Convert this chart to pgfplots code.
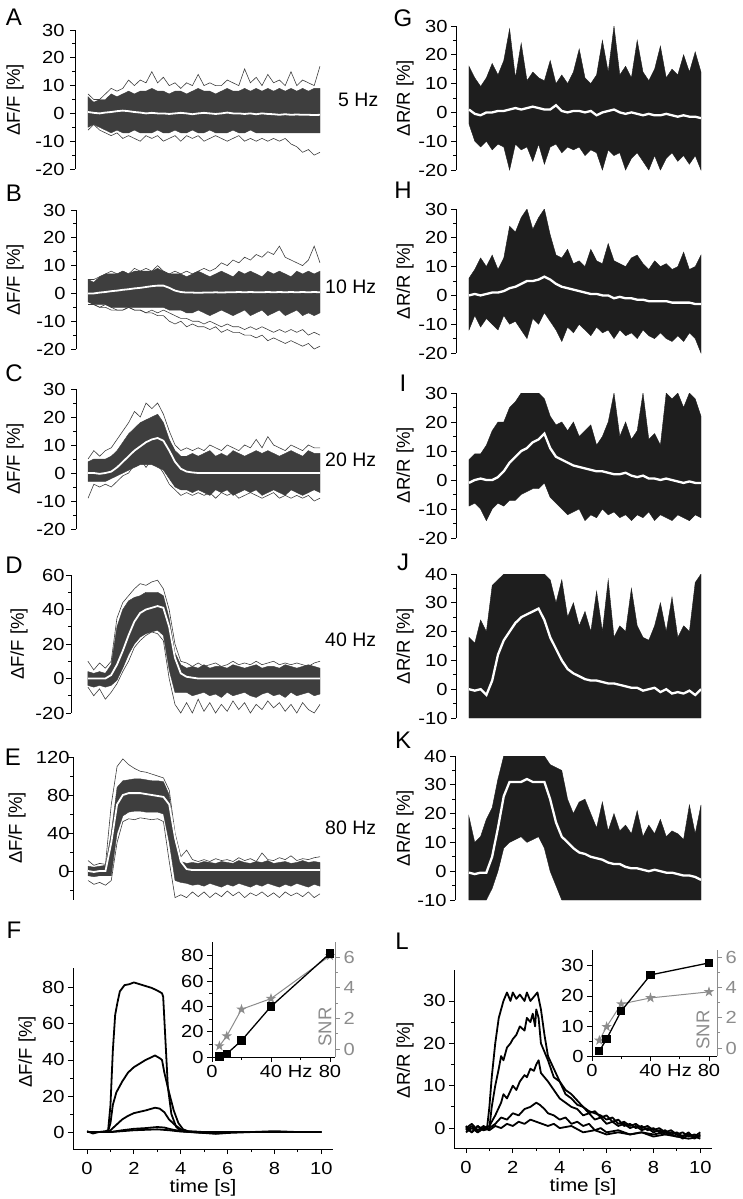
\documentclass[border=0pt]{standalone}
\usepackage{fontspec}
\setmainfont{Liberation Sans}
\newfontfamily\wide{Liberation Sans}[FakeStretch=1.15]
\usepackage{pgfplots}
\usepackage{pgfplotstable}
\pgfplotsset{compat=1.18}
\usepgfplotslibrary{fillbetween}

\definecolor{bandL}{RGB}{62,62,62}
\definecolor{bandR}{RGB}{30,30,30}
\definecolor{snr}{RGB}{140,140,140}

% filled five-point star for the SNR points
\pgfdeclareplotmark{fstar}{%
  \pgfpathmoveto{\pgfpointpolar{90}{1.3\pgfplotmarksize}}%
  \pgfpathlineto{\pgfpointpolar{126}{0.5\pgfplotmarksize}}%
  \pgfpathlineto{\pgfpointpolar{162}{1.3\pgfplotmarksize}}%
  \pgfpathlineto{\pgfpointpolar{198}{0.5\pgfplotmarksize}}%
  \pgfpathlineto{\pgfpointpolar{234}{1.3\pgfplotmarksize}}%
  \pgfpathlineto{\pgfpointpolar{270}{0.5\pgfplotmarksize}}%
  \pgfpathlineto{\pgfpointpolar{306}{1.3\pgfplotmarksize}}%
  \pgfpathlineto{\pgfpointpolar{342}{0.5\pgfplotmarksize}}%
  \pgfpathlineto{\pgfpointpolar{18}{1.3\pgfplotmarksize}}%
  \pgfpathlineto{\pgfpointpolar{54}{0.5\pgfplotmarksize}}%
  \pgfpathclose
  \pgfusepathqfillstroke
}

\pgfplotsset{
  base/.style={scale only axis, anchor=south west, tick align=outside,
    major tick length=5pt, minor tick length=3pt,
    axis line style={line width=0.9pt}, tick style={black, line width=0.9pt},
    /pgf/number format/assume math mode=true,
    tick label style={font=\wide\fontsize{17.5}{19}\selectfont}},
  band/.style={base, axis y line*=left, axis x line=none, xtick=\empty,
    xmax=10, minor y tick num=1},
  timeaxis/.style={base, axis x line*=bottom, axis y line*=left,
    xmin=-0.6, xmax=10.5, xtick={0,2,...,10}, minor x tick num=1, minor y tick num=1,
    xticklabel style={inner sep=1pt, yshift=-7pt},
    xlabel={time [s]},
    xlabel style={font=\wide\fontsize{18}{19}\selectfont,
      at={(axis description cs:0.5,0)}, anchor=north, inner sep=0pt, yshift=-30pt}},
  tr/.style={black, line width=1.8pt, line join=round},
  meanL/.style={white, line width=1.8pt},
  meanR/.style={white, line width=2.3pt},
}

% dense band (hi/lo), outlier traces (o1,o2,o3) and mean (m); t in s, values in %
\pgfplotstableread{
t hi lo m o1 o2
0 6 -5 0.5 7 -6
0.25 4 -4 0.2 5 -4
0.5 5 -5 0 5 -6
0.75 5 -6 0.3 7 -7
1.0 7 -7 0.5 9 -8
1.25 6 -6 0.8 8 -7
1.5 7 -7 1 9 -9
1.75 8 -7 0.8 12 -8
2.0 7 -6 0.5 10 -9
2.25 8 -7 0.3 12 -10
2.5 8 -7 0 11 -8
2.75 9 -7 0.2 15 -9
3.0 8 -6 0 11 -8
3.25 8 -7 0 13 -10
3.5 7 -7 -0.2 10 -9
3.75 8 -6 0 11 -8
4.0 8 -7 0.2 9 -10
4.25 7 -7 0 11 -8
4.5 8 -6 -0.3 10 -9
4.75 9 -7 0 14 -8
5.0 8 -7 0.2 10 -10
5.25 8 -6 0 11 -9
5.5 7 -7 -0.2 10 -8
5.75 8 -7 0 10 -9
6.0 9 -7 0.3 12 -10
6.25 8 -6 0 11 -9
6.5 8 -7 0 10 -8
6.75 9 -7 -0.2 16 -10
7.0 8 -6 0 11 -9
7.25 9 -7 -0.3 13 -10
7.5 8 -7 0 10 -9
7.75 9 -7 -0.2 14 -10
8.0 8 -7 -0.3 11 -9
8.25 9 -7 -0.5 12 -10
8.5 8 -7 -0.3 10 -9
8.75 9 -7 -0.5 15 -11
9.0 8 -7 -0.4 10 -12
9.25 9 -7 -0.5 12 -14
9.5 8 -7 -0.5 11 -13
9.75 9 -7 -0.6 10 -15
10.0 9 -7 -0.5 17 -14
}\tabA

\pgfplotstableread{
t hi lo m o1 o2 o3
0 5 -3 0 5 -4 -3
0.25 4 -4 0 5 -4 -4
0.5 6 -4 0.3 6 -5 -5
0.75 7 -4 0.5 7 -5 -4
1.0 7 -5 0.8 8 -6 -5
1.25 7 -5 1 7 -6 -6
1.5 8 -5 1.3 8 -6 -6
1.75 7 -5 1.5 7 -5 -5
2.0 8 -5 1.8 9 -6 -6
2.25 8 -5 2 8 -6 -6
2.5 8 -5 2.3 9 -7 -7
2.75 8 -5 2.6 8 -7 -6
3.0 9 -5 2.8 10 -8 -7
3.25 8 -5 2.8 8 -8 -6
3.5 7 -6 2 7 -10 -7
3.75 7 -6 1 8 -11 -8
4.0 7 -6 0.5 7 -10 -9
4.25 6 -7 0.3 8 -12 -9
4.5 7 -7 0.3 7 -11 -10
4.75 8 -6 0.2 8 -12 -10
5.0 7 -7 0.3 9 -12 -11
5.25 6 -8 0.3 8 -13 -10
5.5 7 -7 0.4 9 -12 -11
5.75 8 -6 0.3 11 -14 -12
6.0 7 -7 0.4 10 -13 -11
6.25 6 -8 0.4 12 -14 -12
6.5 8 -7 0.5 11 -14 -12
6.75 7 -6 0.4 13 -15 -13
7.0 8 -8 0.5 12 -15 -12
7.25 7 -7 0.4 14 -16 -13
7.5 6 -6 0.4 13 -15 -12
7.75 8 -8 0.5 15 -17 -13
8.0 7 -7 0.4 14 -16 -14
8.25 8 -6 0.5 17 -17 -13
8.5 7 -8 0.4 13 -18 -14
8.75 6 -7 0.5 12 -17 -13
9.0 8 -6 0.4 11 -18 -14
9.25 7 -8 0.5 10 -19 -13
9.5 8 -7 0.4 12 -18 -15
9.75 7 -8 0.5 17 -20 -14
10.0 8 -7 0.4 11 -19 -15
}\tabB

\pgfplotstableread{
t hi lo m o1 o2
0 4 -3 0 5 -9
0.25 5 -3 0 8 -4
0.5 5 -3 -0.3 6 -5
0.75 5 -3 0 8 -4
1.0 6 -2 0.5 9 -5
1.25 8 -1 2 12 -3
1.5 11 0 4 15 -1
1.75 14 1 6 18 0
2.0 16 2 8 22 3
2.25 18 3 9.5 20 5
2.5 19 3 11 25 2
2.75 20 3 12 23 5
3.0 21 2 12.5 25 3
3.25 18 1 11.5 21 0
3.5 12 -2 8 15 -4
3.75 8 -5 4 10 -6
4.0 6 -6 1.5 8 -8
4.25 6 -6 0.5 9 -7
4.5 7 -7 0.2 8 -8
4.75 6 -6 0 9 -7
5.0 7 -7 0 8 -8
5.25 8 -8 0 10 -7
5.5 6 -6 0 9 -9
5.75 7 -7 0 8 -7
6.0 6 -6 0 10 -8
6.25 8 -8 0 9 -7
6.5 7 -7 0 8 -9
6.75 6 -6 0 10 -8
7.0 7 -7 0 9 -7
7.25 8 -6 0 12 -8
7.5 7 -8 0 9 -9
7.75 8 -7 0 13 -8
8.0 7 -6 0 10 -7
8.25 6 -7 0 9 -9
8.5 7 -8 0 8 -8
8.75 8 -6 0 10 -9
9.0 7 -7 0 9 -8
9.25 6 -8 0 8 -9
9.5 8 -7 0 10 -8
9.75 7 -6 0 9 -10
10.0 7 -7 0 9 -9
}\tabC

\pgfplotstableread{
t hi lo m o1 o2
0 4 -4 0 10 -5
0.25 3 -5 0 5 -10
0.5 4 -4 0 9 -6
0.75 3 -5 0 6 -12
1.0 8 -4 2 10 -8
1.25 30 -1 8 35 -3
1.5 40 6 16 44 4
1.75 45 14 25 48 10
2.0 47 20 33 52 18
2.25 48 24 38 55 22
2.5 50 26 40 54 25
2.75 50 27 41 56 27
3.0 50 28 42 57 26
3.25 48 25 41 52 22
3.5 35 5 30 40 0
3.75 15 -8 12 20 -15
4.0 8 -8 3 10 -20
4.25 6 -8 1 9 -14
4.5 7 -10 0.5 7 -20
4.75 6 -9 0 9 -12
5.0 8 -8 0 7 -19
5.25 6 -10 0 8 -14
5.5 7 -9 0 9 -20
5.75 7 -11 0 7 -15
6.0 6 -8 0 8 -19
6.25 8 -10 0 10 -13
6.5 7 -9 0 8 -18
6.75 6 -8 0 9 -14
7.0 7 -10 0 8 -20
7.25 8 -11 0 10 -15
7.5 6 -9 0 8 -18
7.75 7 -8 0 9 -13
8.0 7 -10 0 10 -17
8.25 6 -9 0 8 -14
8.5 8 -11 0 9 -19
8.75 7 -8 0 8 -15
9.0 6 -10 0 9 -20
9.25 7 -9 0 8 -14
9.5 8 -8 0 7 -18
9.75 7 -10 0 9 -20
10.0 6 -9 0 10 -15
}\tabD

\pgfplotstableread{
t hi lo m o1 o2
0 5 -5 0 11 -10
0.25 4 -6 -1 6 -14
0.5 5 -5 0 8 -12
0.75 6 -5 0 7 -15
1.0 40 -5 30 70 -10
1.25 88 40 70 110 30
1.5 95 58 80 118 52
1.75 96 62 82 112 55
2.0 97 63 82 108 54
2.25 97 63 82 105 56
2.5 96 62 81 104 55
2.75 95 62 80 102 54
3.0 95 62 79 100 55
3.25 94 60 78 98 52
3.5 80 30 70 85 10
3.75 30 -10 35 40 -28
4.0 10 -12 10 15 -25
4.25 8 -13 2 22 -28
4.5 9 -15 1 12 -22
4.75 8 -14 1 10 -27
5.0 10 -16 1 12 -22
5.25 9 -13 1 10 -28
5.5 8 -15 1 13 -23
5.75 10 -17 1 11 -27
6.0 9 -14 1 12 -21
6.25 8 -16 1 10 -26
6.5 11 -13 1 14 -22
6.75 9 -15 1 11 -28
7.0 8 -17 1 13 -23
7.25 10 -14 1 10 -26
7.5 9 -16 1 19 -22
7.75 11 -13 1 12 -27
8.0 8 -15 1 11 -23
8.25 9 -17 1 14 -28
8.5 10 -14 1 12 -22
8.75 8 -16 1 16 -26
9.0 9 -13 1 11 -23
9.25 11 -15 1 13 -27
9.5 9 -17 1 12 -22
9.75 10 -14 1 14 -28
10.0 9 -16 1 15 -24
}\tabE

\pgfplotstableread{
t hi lo m
0 16 -4 1
0.25 12 -10 -0.5
0.5 9 -12 -1
0.75 12 -10 0
1.0 17 -13 0
1.25 13 -11 0.5
1.5 18 -12 0.5
1.75 29 -20 1
2.0 12 -11 1.5
2.25 24 -13 1
2.5 11 -12 1.5
2.75 14 -17 2
3.0 12 -11 1.5
3.25 11 -18 1
3.5 18 -12 1
3.75 10 -11 2.5
4.0 13 -14 0.5
4.25 10 -12 0
4.5 14 -13 0.5
4.75 22 -12 0.5
5.0 12 -15 0
5.25 10 -13 0.5
5.5 13 -14 -1
5.75 25 -20 0
6.0 14 -13 0.5
6.25 30 -15 1
6.5 13 -14 0
6.75 16 -20 -0.5
7.0 12 -16 0
7.25 25 -14 -0.5
7.5 14 -17 -1
7.75 11 -20 -0.5
8.0 15 -15 -1
8.25 23 -20 -1
8.5 12 -16 -0.5
8.75 15 -14 -1
9.0 13 -17 -1.5
9.25 20 -15 -1
9.5 14 -18 -1.5
9.75 21 -15 -1.5
10.0 14 -20 -2
}\tabG

\pgfplotstableread{
t hi lo m
0 6 -12 0
0.25 9 -7 0.5
0.5 13 -11 0
0.75 10 -8 0.5
1.0 14 -10 1
1.25 9 -12 1
1.5 13 -7 1.5
1.75 24 -10 2.5
2.0 22 -9 3
2.25 27 -12 4
2.5 30 -15 5
2.75 23 -8 5
3.0 27 -10 5.5
3.25 30 -6 6.5
3.5 21 -9 5.5
3.75 14 -12 4
4.0 13 -16 3
4.25 16 -11 2.5
4.5 11 -13 2
4.75 12 -10 1.5
5.0 10 -12 1
5.25 16 -14 0.5
5.5 12 -11 0.5
5.75 11 -13 0
6.0 18 -12 0
6.25 12 -15 -1
6.5 11 -12 -0.5
6.75 10 -14 -1
7.0 13 -13 -1
7.25 14 -15 -1.5
7.5 11 -12 -1.5
7.75 9 -14 -2
8.0 12 -15 -2
8.25 10 -13 -2
8.5 11 -15 -2
8.75 9 -16 -2.5
9.0 10 -14 -2.5
9.25 15 -16 -2.5
9.5 9 -13 -2.5
9.75 10 -15 -3
10.0 14 -20 -3
}\tabH

\pgfplotstableread{
t hi lo m
0 7 -9 -1
0.25 9 -8 0
0.5 9 -10 0.5
0.75 12 -14 0
1.0 17 -10 0
1.25 20 -8 1
1.5 20 -9 3
1.75 25 -7 6
2.0 27 -7 8
2.25 30 -5 10
2.5 30 -4 11
2.75 30 -3 13
3.0 30 -3 14
3.25 28 -1 16
3.5 22 -6 11
3.75 19 -8 8
4.0 20 -10 7
4.25 17 -12 6
4.5 20 -11 5
4.75 15 -10 4.5
5.0 17 -14 4
5.25 19 -12 3.5
5.5 12 -13 3
5.75 15 -10 3
6.0 20 -12 2.5
6.25 30 -11 2
6.5 15 -13 2
6.75 20 -12 2.5
7.0 14 -14 1.5
7.25 17 -12 1
7.5 30 -13 1.5
7.75 14 -11 0.5
8.0 16 -14 0.5
8.25 12 -12 0
8.5 30 -13 0.5
8.75 28 -14 0
9.0 30 -12 -0.5
9.25 25 -13 -1
9.5 30 -14 -0.5
9.75 28 -12 -1
10.0 22 -13 -1
}\tabI

\pgfplotstableread{
t hi lo m
0 18 -10 0
0.25 16 -10 -0.5
0.5 24 -10 0
0.75 20 -10 -2
1.0 36 -10 3
1.25 38 -10 12
1.5 40 -10 17
1.75 40 -10 20
2.0 40 -10 23
2.25 40 -10 25
2.5 40 -10 26
2.75 40 -10 27
3.0 40 -10 28
3.25 40 -10 24
3.5 38 -10 18
3.75 30 -10 14
4.0 38 -10 10
4.25 25 -10 7
4.5 30 -10 5.5
4.75 22 -10 4.5
5.0 27 -10 3.5
5.25 20 -10 3
5.5 34 -10 3
5.75 20 -10 2.5
6.0 38 -10 2
6.25 18 -10 2
6.5 22 -10 1.5
6.75 20 -10 1
7.0 35 -10 0.5
7.25 22 -10 0.5
7.5 18 -10 -0.5
7.75 17 -10 0
8.0 22 -10 0.5
8.25 30 -10 -1
8.5 20 -10 0
8.75 32 -10 -1.5
9.0 18 -10 -1
9.25 22 -10 -1.5
9.5 20 -10 -0.5
9.75 37 -10 -2
10.0 40 -10 0
}\tabJ

\pgfplotstableread{
t hi lo m
0 19 -10 -0.5
0.25 10 -10 -1
0.5 12 -10 -0.5
0.75 18 -10 -0.5
1.0 22 -6 5
1.25 32 0 15
1.5 40 8 26
1.75 40 10 31
2.0 40 11 31
2.25 40 12 31
2.5 40 10 32
2.75 40 11 31
3.0 40 12 31
3.25 40 8 31
3.5 37 0 25
3.75 36 -5 17
4.0 35 -10 12
4.25 25 -10 10
4.5 20 -10 8
4.75 24 -10 6.5
5.0 25 -10 6
5.25 20 -10 5
5.5 15 -10 4.5
5.75 24 -10 4
6.0 14 -10 3
6.25 20 -10 2.5
6.5 14 -10 2.5
6.75 16 -10 1.5
7.0 13 -10 1
7.25 21 -10 1
7.5 12 -10 0.5
7.75 16 -10 0
8.0 13 -10 0.5
8.25 18 -10 0
8.5 12 -10 -0.5
8.75 14 -10 -0.5
9.0 13 -10 -1
9.25 11 -10 -1.5
9.5 23 -10 -1.5
9.75 13 -10 -2
10.0 23 -10 -3
}\tabK

\newcommand{\band}[3]{%
  \addplot[draw=none, name path=hi#3] table[x=t,y=hi]{#1};
  \addplot[draw=none, name path=lo#3] table[x=t,y=lo]{#1};
  \addplot[fill=#2, draw=#2, line width=0.4pt] fill between[of=hi#3 and lo#3];
}

\begin{document}
\begin{tikzpicture}[font=\fontsize{17.5}{19}\selectfont]

% ---------------- left column: Delta F/F ----------------
\begin{axis}[band, at={(75pt,-169pt)}, width=245pt, height=139pt,
  xmin=-0.56, ymin=-20, ymax=30, ytick={-20,-10,...,30},
  yticklabel style={xshift=-2pt}]
  \band{\tabA}{bandL}{A}
  \addplot[bandL, line width=0.6pt] table[x=t,y=o1]{\tabA};
  \addplot[bandL, line width=0.6pt] table[x=t,y=o2]{\tabA};
  \addplot[meanL] table[x=t,y=m]{\tabA};
\end{axis}

\begin{axis}[band, at={(76pt,-349pt)}, width=244pt, height=139pt,
  xmin=-0.52, ymin=-20, ymax=30, ytick={-20,-10,...,30},
  yticklabel style={xshift=-2pt}]
  \band{\tabB}{bandL}{B}
  \addplot[bandL, line width=0.6pt] table[x=t,y=o1]{\tabB};
  \addplot[bandL, line width=0.6pt] table[x=t,y=o2]{\tabB};
  \addplot[bandL, line width=0.6pt] table[x=t,y=o3]{\tabB};
  \addplot[meanL] table[x=t,y=m]{\tabB};
\end{axis}

\begin{axis}[band, at={(76pt,-529pt)}, width=244pt, height=140pt,
  xmin=-0.52, ymin=-20, ymax=30, ytick={-20,-10,...,30},
  yticklabel style={xshift=-2pt}]
  \band{\tabC}{bandL}{C}
  \addplot[bandL, line width=0.6pt] table[x=t,y=o1]{\tabC};
  \addplot[bandL, line width=0.6pt] table[x=t,y=o2]{\tabC};
  \addplot[meanL] table[x=t,y=m]{\tabC};
\end{axis}

\begin{axis}[band, at={(71pt,-713pt)}, width=249pt, height=138pt,
  xmin=-0.73, ymin=-20, ymax=60, ytick={-20,0,...,60},
  yticklabel style={xshift=2pt}]
  \band{\tabD}{bandL}{D}
  \addplot[bandL, line width=0.6pt] table[x=t,y=o1]{\tabD};
  \addplot[bandL, line width=0.6pt] table[x=t,y=o2]{\tabD};
  \addplot[meanL] table[x=t,y=m]{\tabD};
\end{axis}

\begin{axis}[band, at={(73pt,-899.5pt)}, width=247pt, height=142.5pt,
  xmin=-0.65, ymin=-30, ymax=120, ytick={0,40,...,120}, minor ytick={-20,20,60,100},
  yticklabel style={xshift=5pt}]
  \band{\tabE}{bandL}{E}
  \addplot[bandL, line width=0.6pt] table[x=t,y=o1]{\tabE};
  \addplot[bandL, line width=0.6pt] table[x=t,y=o2]{\tabE};
  \addplot[meanL] table[x=t,y=m]{\tabE};
\end{axis}

% ---------------- right column: Delta R/R ----------------
\begin{axis}[band, at={(456pt,-170pt)}, width=245pt, height=144pt,
  xmin=-0.56, ymin=-20, ymax=30, ytick={-20,-10,...,30}]
  \band{\tabG}{bandR}{G}
  \addplot[meanR] table[x=t,y=m]{\tabG};
\end{axis}

\begin{axis}[band, at={(456pt,-353pt)}, width=245pt, height=144pt,
  xmin=-0.56, ymin=-20, ymax=30, ytick={-20,-10,...,30}]
  \band{\tabH}{bandR}{H}
  \addplot[meanR] table[x=t,y=m]{\tabH};
\end{axis}

\begin{axis}[band, at={(456pt,-538pt)}, width=245pt, height=145pt,
  xmin=-0.56, ymin=-20, ymax=30, ytick={-20,-10,...,30}]
  \band{\tabI}{bandR}{I}
  \addplot[meanR] table[x=t,y=m]{\tabI};
\end{axis}

\begin{axis}[band, at={(456pt,-718pt)}, width=245pt, height=144pt,
  xmin=-0.56, ymin=-10, ymax=40, ytick={-10,0,...,40}]
  \band{\tabJ}{bandR}{J}
  \addplot[meanR] table[x=t,y=m]{\tabJ};
\end{axis}

\begin{axis}[band, at={(455pt,-900pt)}, width=246pt, height=144pt,
  xmin=-0.6, ymin=-10, ymax=40, ytick={-10,0,...,40}]
  \band{\tabK}{bandR}{K}
  \addplot[meanR] table[x=t,y=m]{\tabK};
\end{axis}

% ---------------- F: mean traces Delta F/F ----------------
\begin{axis}[timeaxis, at={(73pt,-1149pt)}, width=260pt, height=181pt,
  ymin=-9.4, ymax=91, ytick={0,20,...,80}]
  \addplot[tr] coordinates {(0,0.5)(0.25,-0.8)(0.5,0)(0.75,0.3)(0.9,1)(1.0,15)(1.1,45)(1.2,65)(1.3,72)(1.4,78)(1.6,81.5)(1.8,82)(2.0,83)(2.25,82)(2.5,81)(2.75,80)(3.0,78.5)(3.2,77)(3.25,75)(3.35,50)(3.45,25)(3.6,10)(3.8,3)(4.0,0.5)(4.5,0)(5,-0.5)(5.5,-1)(6,-0.5)(7,0)(8,0.5)(9,0)(10,0)};
  \addplot[tr] coordinates {(0,0)(0.5,0)(0.9,0.5)(1.0,5)(1.1,15)(1.25,22)(1.5,28)(1.75,33)(2.0,36)(2.25,38)(2.5,40)(2.75,41.5)(2.9,42.5)(3.1,41)(3.2,40)(3.3,33)(3.5,22)(3.7,12)(3.9,5)(4.1,1.5)(4.4,0)(5,-0.5)(6,0)(8,0)(10,0)};
  \addplot[tr] coordinates {(0,0)(0.9,0)(1.0,1)(1.25,4)(1.5,7)(1.75,9)(2.0,10.5)(2.5,12)(2.9,13.5)(3.1,13)(3.3,11)(3.5,7)(3.75,4)(4.0,1.5)(4.3,0.5)(5,0)(10,0)};
  \addplot[tr] coordinates {(0,0)(1,0)(1.5,1)(2,1.8)(2.5,2.2)(3,2.8)(3.3,2.5)(3.6,1.5)(4,0.5)(4.5,0)(10,0)};
  \addplot[tr] coordinates {(0,0)(1,0)(1.5,0.5)(2,1)(3,1.5)(3.5,1)(4,0.3)(5,0)(10,0)};
\end{axis}

% F inset: SNR (grey, right axis) then amplitude (black)
\begin{axis}[base, at={(212pt,-1057pt)}, width=123pt, height=115pt,
  axis y line*=right, axis x line=none, xtick=\empty,
  xmin=0, xmax=83.4, ymin=-0.52, ymax=7.0, ytick={0,2,4,6}, minor y tick num=1,
  y axis line style={snr}, ytick style={snr}, yticklabel style={snr}, clip=false]
  \addplot[snr, line width=1pt, mark=fstar, mark size=3pt] coordinates {(5,0.2)(10,0.85)(20,2.6)(40,3.3)(80,6.1)};
\end{axis}
\begin{axis}[base, at={(212pt,-1057pt)}, width=123pt, height=115pt,
  axis x line*=bottom, axis y line*=left,
  xmin=0, xmax=83.4, ymin=0, ymax=91,
  xtick={0,40,80}, xticklabels={0,{40\rlap{\ Hz}},80}, minor xtick={20,60},
  ytick={0,20,...,80}, minor y tick num=1, clip=false]
  \addplot[black, line width=1.3pt, mark=square*, mark size=3.5pt] coordinates {(5,0.5)(10,2.5)(20,13)(40,40)(80,82)};
\end{axis}

% ---------------- L: mean traces Delta R/R ----------------
\begin{axis}[timeaxis, at={(454pt,-1148pt)}, width=258pt, height=178pt,
  xmin=-0.51, ymin=-4.7, ymax=37.3, ytick={0,10,...,30}]
  \addplot[tr] coordinates {(0,0)(0.25,1)(0.5,-0.5)(0.75,0.5)(0.9,0)(1.0,5)(1.1,12)(1.25,20)(1.4,26)(1.6,30)(1.75,32)(1.9,30)(2.0,32)(2.15,30.5)(2.3,31.5)(2.5,30)(2.6,32)(2.75,30)(2.9,31)(3.05,32)(3.2,28)(3.35,22)(3.5,17)(3.75,14)(4.0,11)(4.25,9)(4.5,8)(4.75,6.5)(5.0,5)(5.25,4)(5.5,3.5)(5.75,3)(6.0,2)(6.25,2.5)(6.5,1)(6.75,1.5)(7.0,0.5)(7.25,1)(7.5,0)(7.75,0.5)(8.0,-0.5)(8.25,0)(8.5,-1)(8.75,-0.5)(9.0,-1.5)(9.25,-1)(9.5,-2)(9.75,-1.5)(10.0,-2)};
  \addplot[tr] coordinates {(0,0.5)(0.25,-1)(0.5,0.5)(0.75,-0.5)(1.0,0)(1.1,5)(1.25,10)(1.4,14)(1.5,17)(1.6,16)(1.75,19)(1.9,20)(2.0,21)(2.15,22)(2.3,24)(2.5,23)(2.6,26)(2.75,25)(2.85,27)(2.95,24)(3.0,28)(3.1,26)(3.2,20)(3.35,18)(3.5,16)(3.75,12)(4.0,11)(4.25,8)(4.5,7)(4.75,5.5)(5.0,5)(5.25,3.5)(5.5,4)(5.75,2.5)(6.0,3)(6.25,1.5)(6.5,2)(6.75,0.5)(7.0,1)(7.25,0)(7.5,0.5)(7.75,-0.5)(8.0,0)(8.25,-1)(8.5,-0.5)(8.75,-1.5)(9.0,-1)(9.25,-2)(9.5,-1)(9.75,-2.5)(10.0,-1.5)};
  \addplot[tr] coordinates {(0,-0.5)(0.25,0.5)(0.5,-1)(0.75,0)(1.0,0.5)(1.25,3)(1.5,6)(1.6,8)(1.75,7)(2.0,10)(2.15,9)(2.3,11)(2.5,12.5)(2.6,12)(2.75,14)(2.9,13.5)(3.0,15)(3.1,16)(3.2,13)(3.35,12)(3.5,11)(3.75,9)(4.0,7)(4.25,6)(4.5,5)(4.75,4.5)(5.0,3)(5.25,3.5)(5.5,2)(5.75,2.5)(6.0,1)(6.25,1.5)(6.5,0.5)(6.75,1)(7.0,0)(7.25,0.5)(7.5,-0.5)(7.75,0)(8.0,-1)(8.25,-0.5)(8.5,-1.5)(8.75,-1)(9.0,-1.5)(9.25,-2.5)(9.5,-1.5)(9.75,-2)(10.0,-1)};
  \addplot[tr] coordinates {(0,0)(0.25,-1)(0.5,0.5)(0.75,-0.5)(1.0,0)(1.25,1)(1.5,2.5)(1.75,2)(2.0,3.5)(2.25,3)(2.5,4.5)(2.75,5)(3.0,6)(3.15,5.5)(3.35,4.5)(3.5,3.5)(3.75,3)(4.0,2)(4.25,2.5)(4.5,1)(4.75,1.5)(5.0,0.5)(5.25,1)(5.5,-0.5)(5.75,0)(6.0,-1)(6.5,-0.5)(7.0,-1.5)(7.5,-1)(8.0,-1.5)(8.5,-1)(9.0,-2)(9.5,-1.5)(10.0,-2.5)};
  \addplot[tr] coordinates {(0,-1)(0.25,0)(0.5,-1)(0.75,0)(1.0,-0.5)(1.25,0.5)(1.5,0)(1.75,1)(2.0,0.5)(2.25,1.5)(2.5,1)(2.75,2)(3.0,1.5)(3.25,1)(3.5,0.5)(3.75,1)(4.0,0)(4.5,0.5)(5.0,-1)(5.5,-0.5)(6.0,-1.5)(6.5,-1)(7.0,-1.5)(7.5,-1)(8.0,-2)(8.5,-1.5)(9.0,-2)(9.5,-2.5)(10.0,-2)};
\end{axis}

% L inset
\begin{axis}[base, at={(592pt,-1056pt)}, width=125pt, height=106pt,
  axis y line*=right, axis x line=none, xtick=\empty,
  xmin=0, xmax=85.5, ymin=-0.53, ymax=6.46, ytick={0,2,4,6}, minor y tick num=1,
  y axis line style={snr}, ytick style={snr}, yticklabel style={snr}, clip=false]
  \addplot[snr, line width=1pt, mark=fstar, mark size=3pt] coordinates {(5,0.5)(10,1.4)(20,2.9)(40,3.3)(80,3.7)};
\end{axis}
\begin{axis}[base, at={(592pt,-1056pt)}, width=125pt, height=106pt,
  axis x line*=bottom, axis y line*=left,
  xmin=0, xmax=85.5, ymin=0, ymax=35.3,
  xtick={0,40,80}, xticklabels={0,{40\rlap{\ Hz}},80}, minor xtick={20,60},
  ytick={0,10,...,30}, minor y tick num=1, clip=false]
  \addplot[black, line width=1.3pt, mark=square*, mark size=3.5pt] coordinates {(5,1.6)(10,5.7)(20,15)(40,27)(80,31)};
\end{axis}

% ---------------- text ----------------
\begin{scope}[every node/.style={font=\fontsize{18.5}{20}\selectfont}]
  \foreach \y in {100,280,459} {\node[rotate=90] at (15pt,-\y pt) {ΔF/F [\%]};}
  \node[rotate=90] at (19pt,-644pt) {ΔF/F [\%]};
  \node[rotate=90] at (17pt,-828pt) {ΔF/F [\%]};
  \node[rotate=90] at (27pt,-1052pt) {ΔF/F [\%]};
  \foreach \y in {98,281,465,646,828} {\node[rotate=90] at (405pt,-\y pt) {ΔR/R [\%]};}
  \node[rotate=90] at (405pt,-1060pt) {ΔR/R [\%]};
  \node[rotate=90, text=snr] at (325pt,-1027pt) {SNR};
  \node[rotate=90, text=snr] at (703pt,-1030pt) {SNR};
\end{scope}
\begin{scope}[every node/.style={font=\fontsize{19.5}{21}\selectfont, anchor=west, inner sep=0pt}]
  \node at (338pt,-100pt) {5 Hz};
  \node at (325pt,-287pt) {10 Hz};
  \node at (325pt,-460pt) {20 Hz};
  \node at (325pt,-640pt) {40 Hz};
  \node at (325pt,-828pt) {80 Hz};
\end{scope}
\begin{scope}[every node/.style={font=\fontsize{24}{26}\selectfont}]
  \node at (14pt,-17pt) {A};
  \node at (14pt,-193pt) {B};
  \node at (14pt,-373pt) {C};
  \node at (14pt,-565pt) {D};
  \node at (13pt,-757pt) {E};
  \node at (14pt,-930pt) {F};
  \node at (403pt,-18pt) {G};
  \node at (403pt,-190pt) {H};
  \node at (403pt,-383pt) {I};
  \node at (403pt,-562pt) {J};
  \node at (403pt,-740pt) {K};
  \node at (402pt,-941pt) {L};
\end{scope}

% fix the page to the reference frame
\pgfresetboundingbox
\path[use as bounding box] (0pt,0pt) rectangle (743pt,-1199pt);
\end{tikzpicture}
\end{document}
